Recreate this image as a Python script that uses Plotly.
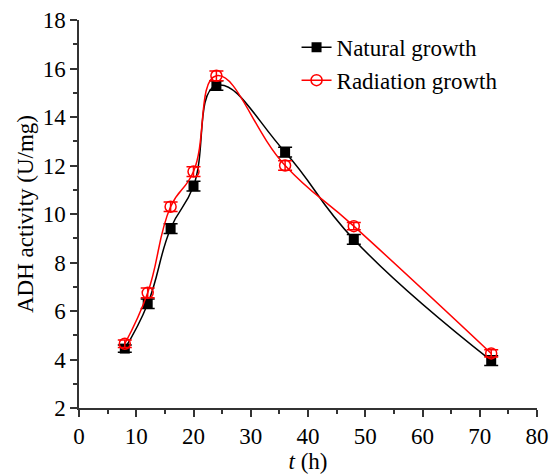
import plotly.graph_objects as go

t_hours = [8, 12, 16, 20, 24, 36, 48, 72]
natural = [4.45, 6.3, 9.4, 11.15, 15.3, 12.55, 8.95, 3.95]
natural_err = [0.15, 0.2, 0.2, 0.2, 0.2, 0.2, 0.2, 0.2]
radiation = [4.65, 6.75, 10.3, 11.75, 15.7, 12.0, 9.5, 4.25]
radiation_err = [0.15, 0.2, 0.2, 0.2, 0.2, 0.2, 0.15, 0.15]

font = "Liberation Serif, Times New Roman, serif"
fs = 23

fig = go.Figure()
fig.add_trace(go.Scatter(
    x=t_hours, y=natural, name="Natural growth", mode="lines+markers",
    line=dict(color="black", width=1.5, shape="spline", smoothing=1.3),
    marker=dict(symbol="square", size=10, color="black"),
    error_y=dict(type="data", array=natural_err, color="black", thickness=1.5, width=7),
))
fig.add_trace(go.Scatter(
    x=t_hours, y=radiation, name="Radiation growth", mode="lines+markers",
    line=dict(color="red", width=1.5, shape="spline", smoothing=1.3),
    marker=dict(symbol="circle-open", size=11, color="red", line=dict(width=1.5)),
    error_y=dict(type="data", array=radiation_err, color="red", thickness=1.5, width=7),
))

axis_common = dict(
    showgrid=False, zeroline=False, showline=True, linecolor="#333", linewidth=1.5,
    ticks="outside", ticklen=7, tickwidth=1.5, tickcolor="#333",
    tickfont=dict(family=font, size=fs, color="black"),
    mirror=False, automargin=False,
)

fig.update_layout(
    width=551, height=466,
    margin=dict(l=71, r=22, t=12, b=66),
    plot_bgcolor="white", paper_bgcolor="white",
    font=dict(family=font, size=fs, color="black"),
    showlegend=True,
    legend=dict(x=0.475, y=0.985, xanchor="left", yanchor="top",
                font=dict(family=font, size=fs, color="black"),
                bgcolor="rgba(0,0,0,0)"),
    xaxis=dict(axis_common, range=[0, 80], dtick=10,
               minor=dict(ticks="outside", ticklen=4, tickwidth=1.5, tickcolor="#333", dtick=5),
               title=dict(text="<i>t</i> (h)", font=dict(family=font, size=fs), standoff=4)),
    yaxis=dict(axis_common, range=[2, 18], dtick=2,
               minor=dict(ticks="outside", ticklen=4, tickwidth=1.5, tickcolor="#333", dtick=1),
               title=dict(text="ADH activity (U/mg)", font=dict(family=font, size=fs), standoff=3)),
)

fig.write_html("out.html")
